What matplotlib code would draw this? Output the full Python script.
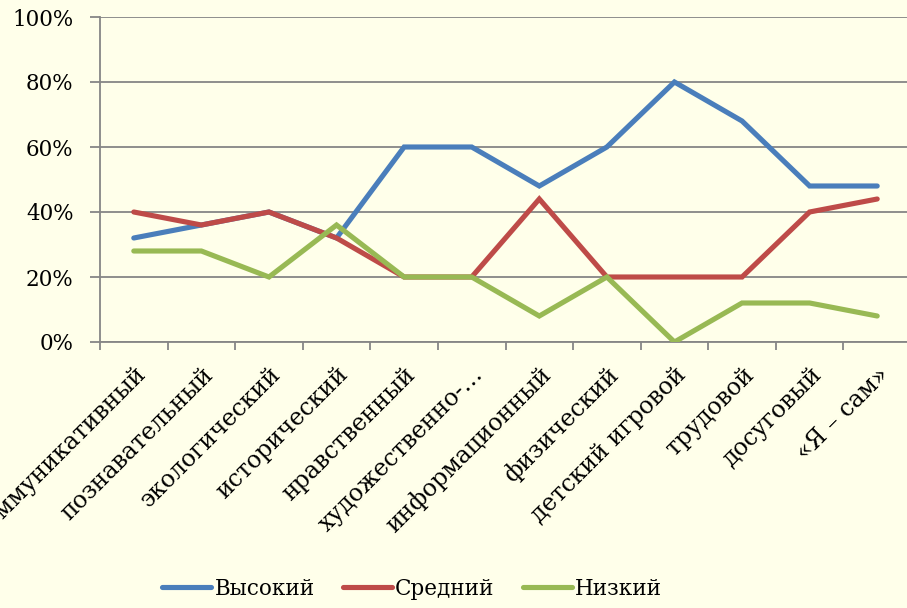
import matplotlib
matplotlib.use("Agg")
import matplotlib.pyplot as plt
from matplotlib.ticker import FixedLocator, PercentFormatter

plt.rcParams['font.family'] = ['DejaVu Serif']

categories = ["коммуникативный", "познавательный", "экологический", "исторический",
              "нравственный", "художественно-…", "информационный", "физический",
              "детский игровой", "трудовой", "досуговый", "«Я – сам»"]
high = [32, 36, 40, 32, 60, 60, 48, 60, 80, 68, 48, 48]
mid = [40, 36, 40, 32, 20, 20, 44, 20, 20, 20, 40, 44]
low = [28, 28, 20, 36, 20, 20, 8, 20, 0, 12, 12, 8]
series_names = ["Высокий", "Средний", "Низкий"]
colors = ["#4A7EBB", "#BE4B48", "#98B954"]
yticks = [0, 20, 40, 60, 80, 100]

bg = "#FFFFEA"
fig = plt.figure(figsize=(9.07, 6.08), dpi=100, facecolor=bg)
ax = fig.add_axes([100/907, 1 - 342/608, 811/907, 325/608], facecolor=bg)

x = list(range(len(categories)))
for vals, name, c in zip([high, mid, low], series_names, colors):
    ax.plot(x, vals, color=c, lw=3.7, label=name, solid_capstyle='round',
            solid_joinstyle='miter', zorder=3)

ax.set_xlim(-0.5, len(categories) - 0.5)
ax.set_ylim(0, 100)
ax.yaxis.set_major_locator(FixedLocator(yticks))
ax.yaxis.set_major_formatter(PercentFormatter(decimals=0))
ax.grid(axis='y', color='#868686', lw=1.3, zorder=1)
for s in ['top', 'right']:
    ax.spines[s].set_visible(False)
for s in ['left', 'bottom']:
    ax.spines[s].set_color('#868686')
    ax.spines[s].set_linewidth(1.3)

ax.set_xticks([i - 0.5 for i in range(len(categories) + 1)])
ax.set_xticklabels([])
ax.set_xticks(x, minor=True)
ax.set_xticklabels(categories, minor=True, rotation=45, ha='right', va='top',
                   rotation_mode='anchor', fontsize=17)
ax.tick_params(axis='x', which='minor', length=0, pad=15)
ax.tick_params(axis='x', which='major', length=6, color='#868686', width=1.3, direction='out')
ax.tick_params(axis='y', length=7, color='#868686', width=1.3, labelsize=15.5, pad=12)

fig.legend(loc='center', bbox_to_anchor=(412/907, 1 - 589/608), ncol=3, frameon=False,
           fontsize=15.5, handlelength=2.3, handletextpad=0.14, columnspacing=1.3)

fig.savefig("out.png", dpi=100, facecolor=bg)
